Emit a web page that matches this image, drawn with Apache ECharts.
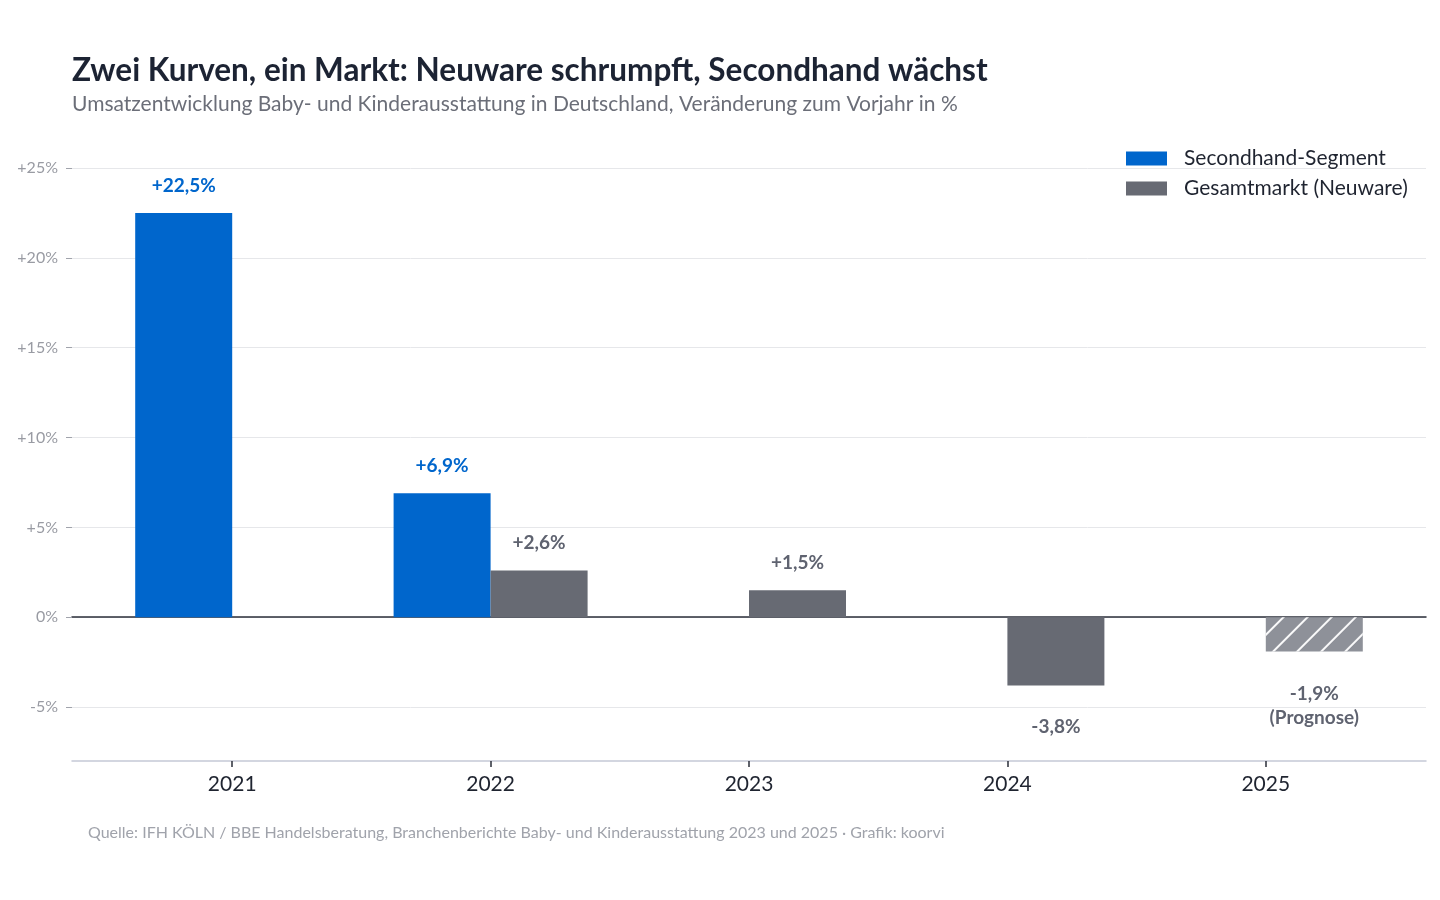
<!DOCTYPE html>
<html>
<head>
<meta charset="utf-8">
<script src="https://cdn.jsdelivr.net/npm/echarts@6/dist/echarts.min.js"></script>
<style>
html, body { margin: 0; padding: 0; background: #fff; }
#chart { width: 1440px; height: 900px; }
</style>
</head>
<body>
<div id="chart"></div>
<script>
// Daten
var years = ['2021', '2022', '2023', '2024', '2025'];
var secondhand = [22.5, 6.9, null, null, null];
var gesamtmarkt = [null, 2.6, 1.5, -3.8, -1.9];
var yTicks = [-5, 0, 5, 10, 15, 20, 25];

var FONT = 'Lato, "Noto Sans", sans-serif';
var BLUE = '#0066cc';
var GRAY = '#676a73';

function fmt(v) {
	var s = Math.abs(v).toFixed(1).replace('.', ',');
	return (v > 0 ? '+' : '-') + s + '%';
}

var gesamtData = gesamtmarkt.map(function(v, i) {
	if (v === null) return null;
	var item = {
		value: v,
		label: {
			position: v < 0 ? 'bottom' : 'top',
			distance: v < 0 ? 32 : 18
		}
	};
	if (i == 4) {
		// Prognose: schraffiert
		item.itemStyle = {
			color: '#8e9199',
			decal: {
				symbol: 'rect',
				dashArrayX: [1, 0],
				dashArrayY: [2, 15],
				rotation: -Math.PI / 4,
				color: 'rgba(255,255,255,0.95)'
			}
		};
		item.label.formatter = fmt(v) + '\n(Prognose)';
		item.label.lineHeight = 24;
		item.label.distance = 30;
	}
	return item;
});

var ech = echarts.init(document.getElementById('chart'));
var option = {
	animation: false,
	title: [{
		text: 'Zwei Kurven, ein Markt: Neuware schrumpft, Secondhand wächst',
		left: 72,
		top: 55,
		padding: 0,
		textStyle: { fontFamily: FONT, fontSize: 31.5, fontWeight: 'bold', color: '#1c2333' }
	}, {
		text: 'Umsatzentwicklung Baby- und Kinderausstattung in Deutschland, Veränderung zum Vorjahr in %',
		left: 72,
		top: 94,
		padding: 0,
		textStyle: { fontFamily: FONT, fontSize: 21, fontWeight: 'normal', color: '#6b6e78' }
	}, {
		text: 'Quelle: IFH KÖLN / BBE Handelsberatung, Branchenberichte Baby- und Kinderausstattung 2023 und 2025 · Grafik: koorvi',
		left: 88,
		top: 825,
		padding: 0,
		textStyle: { fontFamily: FONT, fontSize: 16, fontWeight: 'normal', color: '#a0a3ab' }
	}],
	legend: {
		orient: 'vertical',
		left: 1126,
		top: 148,
		padding: 0,
		itemWidth: 41,
		itemHeight: 14,
		itemGap: 9,
		icon: 'rect',
		data: ['Secondhand-Segment', 'Gesamtmarkt (Neuware)'],
		textStyle: { fontFamily: FONT, fontSize: 21, color: '#1f2430', padding: [0, 0, 0, 12] }
	},
	grid: [
		{ left: 72, right: 14, top: 168, bottom: 139 },
		{ left: 103, width: 1292, top: 168, bottom: 139 }
	],
	xAxis: [{
		gridIndex: 0,
		type: 'category',
		data: [''],
		axisLine: { onZero: true, lineStyle: { color: '#2b2f3a', width: 1.5 } },
		axisTick: { show: false },
		axisLabel: { show: false }
	}, {
		gridIndex: 0,
		type: 'category',
		data: [''],
		position: 'bottom',
		axisLine: { onZero: false, lineStyle: { color: '#c5c9d6', width: 1.5 } },
		axisTick: { show: false },
		axisLabel: { show: false }
	}, {
		gridIndex: 1,
		type: 'category',
		data: years,
		position: 'bottom',
		axisLine: { show: false, onZero: false },
		axisTick: { show: true, alignWithLabel: true, length: 6, lineStyle: { color: '#2b2f3a', width: 1.5 } },
		axisLabel: { margin: 13, fontFamily: FONT, fontSize: 21, color: '#1f2430' }
	}],
	yAxis: [{
		gridIndex: 0,
		type: 'value',
		min: -8,
		max: 25,
		axisLine: { show: false },
		axisTick: { show: true, length: 6, customValues: yTicks, lineStyle: { color: '#a0a3ab' } },
		splitLine: { show: true, lineStyle: { color: '#e6e7ea', width: 1 } },
		axisLabel: {
			customValues: yTicks,
			margin: 14,
			fontFamily: FONT,
			fontSize: 16,
			color: '#999ba3',
			formatter: function(v) {
				return v > 0 ? '+' + v + '%' : v + '%';
			}
		}
	}, {
		gridIndex: 1,
		type: 'value',
		min: -8,
		max: 25,
		show: false,
		splitLine: { show: false }
	}],
	series: [{
		name: 'Secondhand-Segment',
		type: 'bar',
		xAxisIndex: 2,
		yAxisIndex: 1,
		barWidth: 97,
		barGap: '0%',
		itemStyle: { color: BLUE },
		label: {
			show: true,
			position: 'top',
			distance: 18,
			fontFamily: FONT,
			fontSize: 19,
			fontWeight: 'bold',
			color: BLUE,
			formatter: function(p) { return fmt(p.value); }
		},
		data: secondhand
	}, {
		name: 'Gesamtmarkt (Neuware)',
		type: 'bar',
		xAxisIndex: 2,
		yAxisIndex: 1,
		barWidth: 97,
		barGap: '0%',
		itemStyle: { color: GRAY },
		label: {
			show: true,
			fontFamily: FONT,
			fontSize: 19,
			fontWeight: 'bold',
			color: '#5f6370',
			formatter: function(p) { return fmt(p.value); }
		},
		data: gesamtData
	}]
};
ech.setOption(option);
</script>
</body>
</html>
